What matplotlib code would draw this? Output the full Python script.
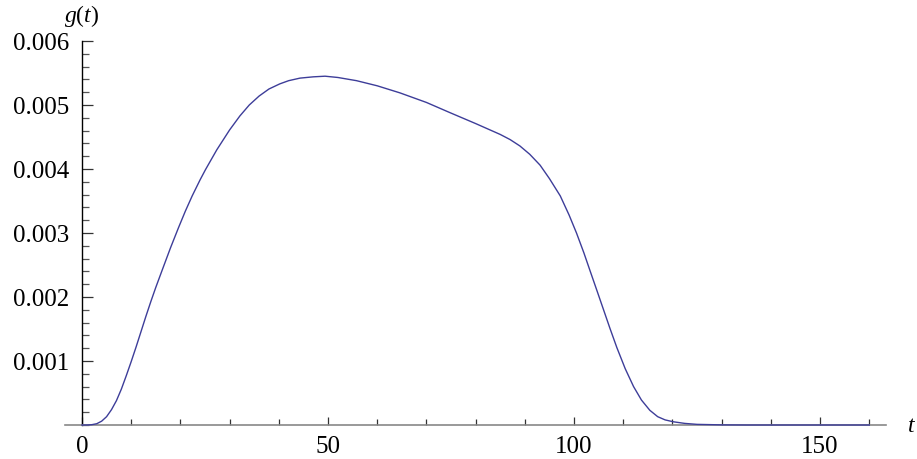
import matplotlib
matplotlib.use("Agg")
import matplotlib.pyplot as plt
from matplotlib.ticker import MultipleLocator, FixedLocator

plt.rcParams['font.family'] = ['Liberation Serif', 'DejaVu Serif']
plt.rcParams['mathtext.fontset'] = 'custom'
plt.rcParams['mathtext.rm'] = 'Liberation Serif'
plt.rcParams['mathtext.it'] = 'Liberation Serif:italic'

# data
t_vals = [0, 1, 2, 3, 4, 5, 6, 7, 8, 9, 10, 11, 12, 13, 14, 15, 16.3, 18, 19.6, 21,
          22.4, 24, 25.1, 27.4, 30, 32.1, 34, 36, 38, 40.2, 42, 44.3, 47, 49.4, 52,
          55.8, 60, 64.6, 70, 74.8, 80, 85, 87, 89, 91, 93.1, 95, 97.2, 99, 100.5,
          102, 103.3, 104.7, 106, 107.3, 108.7, 110.4, 112.1, 113.7, 115.4, 117,
          118.5, 120.2, 122.5, 125, 130, 135, 160]
g_vals = [0, 0, 0.000005, 0.00002, 0.00006, 0.00013, 0.00024, 0.00038, 0.00056,
          0.00077, 0.00099, 0.00122, 0.00146, 0.0017, 0.00193, 0.00215, 0.00242,
          0.00277, 0.00308, 0.00334, 0.00358, 0.00383, 0.00399, 0.0043, 0.00461,
          0.00483, 0.005, 0.00514, 0.00525, 0.00533, 0.00538, 0.00542, 0.00544,
          0.00545, 0.00543, 0.00538, 0.0053, 0.00519, 0.00504, 0.00488, 0.00471,
          0.00454, 0.00446, 0.00436, 0.00423, 0.00406, 0.00385, 0.00358, 0.00328,
          0.003, 0.00269, 0.0024, 0.00209, 0.0018, 0.00151, 0.00121, 0.00088,
          0.0006, 0.00039, 0.00023, 0.00013, 0.00008, 0.00005, 0.000025, 0.00001,
          0.000002, 0, 0]
x_major = [0, 50, 100, 150]
y_major = [0.001, 0.002, 0.003, 0.004, 0.005, 0.006]
y_labels = ['0.001', '0.002', '0.003', '0.004', '0.005', '0.006']

W, H = 917, 459
fig = plt.figure(figsize=(W / 100, H / 100), dpi=100)
ax = fig.add_axes([65 / W, (H - 425) / H, 821 / W, 384 / H])
ax.set_xlim(-3.45, 163.4)
ax.set_ylim(0, 0.006)

ax.plot(t_vals, g_vals, color='#3d3d99', lw=1.0, clip_on=False, zorder=5)

for s in ['top', 'right']:
    ax.spines[s].set_visible(False)
ax.spines['left'].set_position(('data', 0))
ax.spines['left'].set_bounds(0, 0.006)
ax.spines['left'].set_color('black')
ax.spines['left'].set_linewidth(1.0)
ax.spines['bottom'].set_color('#888888')
ax.spines['bottom'].set_linewidth(1.2)

ax.xaxis.set_major_locator(FixedLocator(x_major))
ax.xaxis.set_minor_locator(MultipleLocator(10))
ax.set_xticklabels([str(v) for v in x_major])
ax.yaxis.set_major_locator(FixedLocator(y_major))
ax.yaxis.set_minor_locator(MultipleLocator(0.0002))
ax.set_yticklabels(y_labels)

ax.tick_params(axis='x', which='major', direction='in', length=6, width=0.9,
               color='#333333', labelsize=18, pad=8)
ax.tick_params(axis='x', which='minor', direction='in', length=4, width=0.9,
               color='#333333')
ax.tick_params(axis='y', which='major', direction='in', length=8, width=0.9,
               color='#333333', labelsize=18, pad=9)
ax.tick_params(axis='y', which='minor', direction='in', length=5, width=0.9,
               color='#555555')

fig.text(82 / W, 1 - 16 / H, r'$g(t)$', fontsize=17, ha='center', va='center')
fig.text(912 / W, 1 - 427 / H, r'$t$', fontsize=17, ha='center', va='center')

fig.savefig('out.png', dpi=100)
